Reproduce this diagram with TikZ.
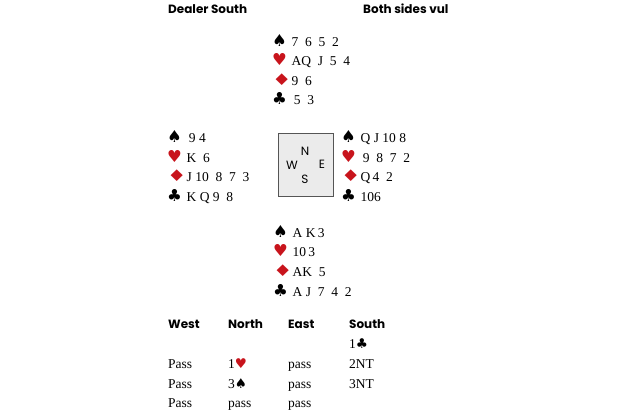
\documentclass[tikz,border=0pt]{standalone}
\usepackage{xcolor}
\usepackage{graphicx}
\usepackage{fontspec}
\usepackage{tikz}
\usetikzlibrary{positioning}
\setmainfont{Liberation Serif}
\newfontfamily\headfont{Poppins}
\newfontfamily\suitfont{DejaVu Sans}
\definecolor{suitred}{HTML}{C8141C}
\definecolor{tablegray}{HTML}{EBEBEB}
\definecolor{tableline}{HTML}{555555}
\newcommand{\suitS}{{\suitfont\fontsize{16.5}{16}\selectfont ♠}}
\newcommand{\suitH}{{\suitfont\fontsize{16.5}{16}\selectfont\color{suitred}♥}}
\newcommand{\suitD}{{\suitfont\fontsize{16}{16}\selectfont\color{suitred}\scalebox{1.35}[1]{♦}}}
\newcommand{\suitC}{{\suitfont\fontsize{16.5}{16}\selectfont ♣}}
\newcommand{\row}[2]{\makebox[19.5pt][l]{#1}#2}
\tikzstyle{head} = [anchor=base west, inner sep=0pt, font=\headfont\bfseries\fontsize{12}{14}\selectfont]
\tikzstyle{cards} = [anchor=base west, inner sep=0pt, font=\fontsize{13.5}{15}\selectfont]
\tikzstyle{bid} = [anchor=base west, inner sep=0pt, font=\fontsize{13.5}{15}\selectfont]
\tikzstyle{compass} = [inner sep=0pt, font=\headfont\fontsize{12}{13}\selectfont]

\begin{document}
\begin{tikzpicture}[x=1pt, y=-1pt]
\useasboundingbox (0, 0) rectangle (620, 413);
% headings
\node [head] (dealer) at (168, 13.5) {Dealer South};
\node [head] (vul) at (363, 13.5) {Both sides vul};
% north
\node [cards] (n1) at (272, 46) {\row{\suitS}{7\ \ 6\ \ 5\ \ 2}};
\node [cards] (n2) at (272, 65.5) {\row{\suitH}{AQ\ \ J\ \ 5\ \ 4}};
\node [cards] (n3) at (272, 85) {\row{\suitD}{9\ \ 6}};
\node [cards] (n4) at (272, 104.5) {\row{\suitC}{\,5\ \ 3}};
% west
\node [cards] (w1) at (167, 142.5) {\row{\suitS}{\,9\ 4}};
\node [cards] (w2) at (167, 162) {\row{\suitH}{K\ \ 6}};
\node [cards] (w3) at (167, 181.5) {\row{\suitD}{J\ 10\ \ 8\ \ 7\ \ 3}};
\node [cards] (w4) at (167, 201) {\row{\suitC}{K\ Q\ 9\ \ 8}};
% table
\node [rectangle, draw=tableline, fill=tablegray, line width=1pt, minimum width=55pt, minimum height=63pt] (table) at (305.5, 164.5) {};
\node [compass] (N) at (305, 151) {N};
\node [compass] (W) at (292, 165) {W};
\node [compass] (E) at (322, 164) {E};
\node [compass] (S) at (305, 179) {S};
% east
\node [cards] (e1) at (341, 142.5) {\row{\suitS}{Q\ J\ 10\ 8}};
\node [cards] (e2) at (341, 162) {\row{\suitH}{\,9\ \ 8\ \ 7\ \ 2}};
\node [cards] (e3) at (341, 181.5) {\row{\suitD}{Q\,4\ \ 2}};
\node [cards] (e4) at (341, 201) {\row{\suitC}{106}};
% south
\node [cards] (s1) at (273, 237) {\row{\suitS}{A\ K\,3}};
\node [cards] (s2) at (273, 256.5) {\row{\suitH}{10\,3}};
\node [cards] (s3) at (273, 276) {\row{\suitD}{AK\ \ 5}};
\node [cards] (s4) at (273, 296) {\row{\suitC}{A\ J\ \ 7\ \ 4\ \ 2}};
% bidding
\node [head] (hW) at (168, 328) {West};
\node [head] (hN) at (228, 328) {North};
\node [head] (hE) at (288, 328) {East};
\node [head] (hS) at (349, 328) {South};
\node [bid] (b1S) at (349, 348) {1{\suitfont ♣}};
\node [bid] (b2W) at (168, 368) {Pass};
\node [bid] (b2N) at (228, 368) {1{\suitfont\color{suitred}♥}};
\node [bid] (b2E) at (288, 368) {pass};
\node [bid] (b2S) at (349, 368) {2NT};
\node [bid] (b3W) at (168, 388) {Pass};
\node [bid] (b3N) at (228, 388) {3{\suitfont ♠}};
\node [bid] (b3E) at (288, 388) {pass};
\node [bid] (b3S) at (349, 388) {3NT};
\node [bid] (b4W) at (168, 407) {Pass};
\node [bid] (b4N) at (228, 407) {pass};
\node [bid] (b4E) at (288, 407) {pass};
\end{tikzpicture}
\end{document}
